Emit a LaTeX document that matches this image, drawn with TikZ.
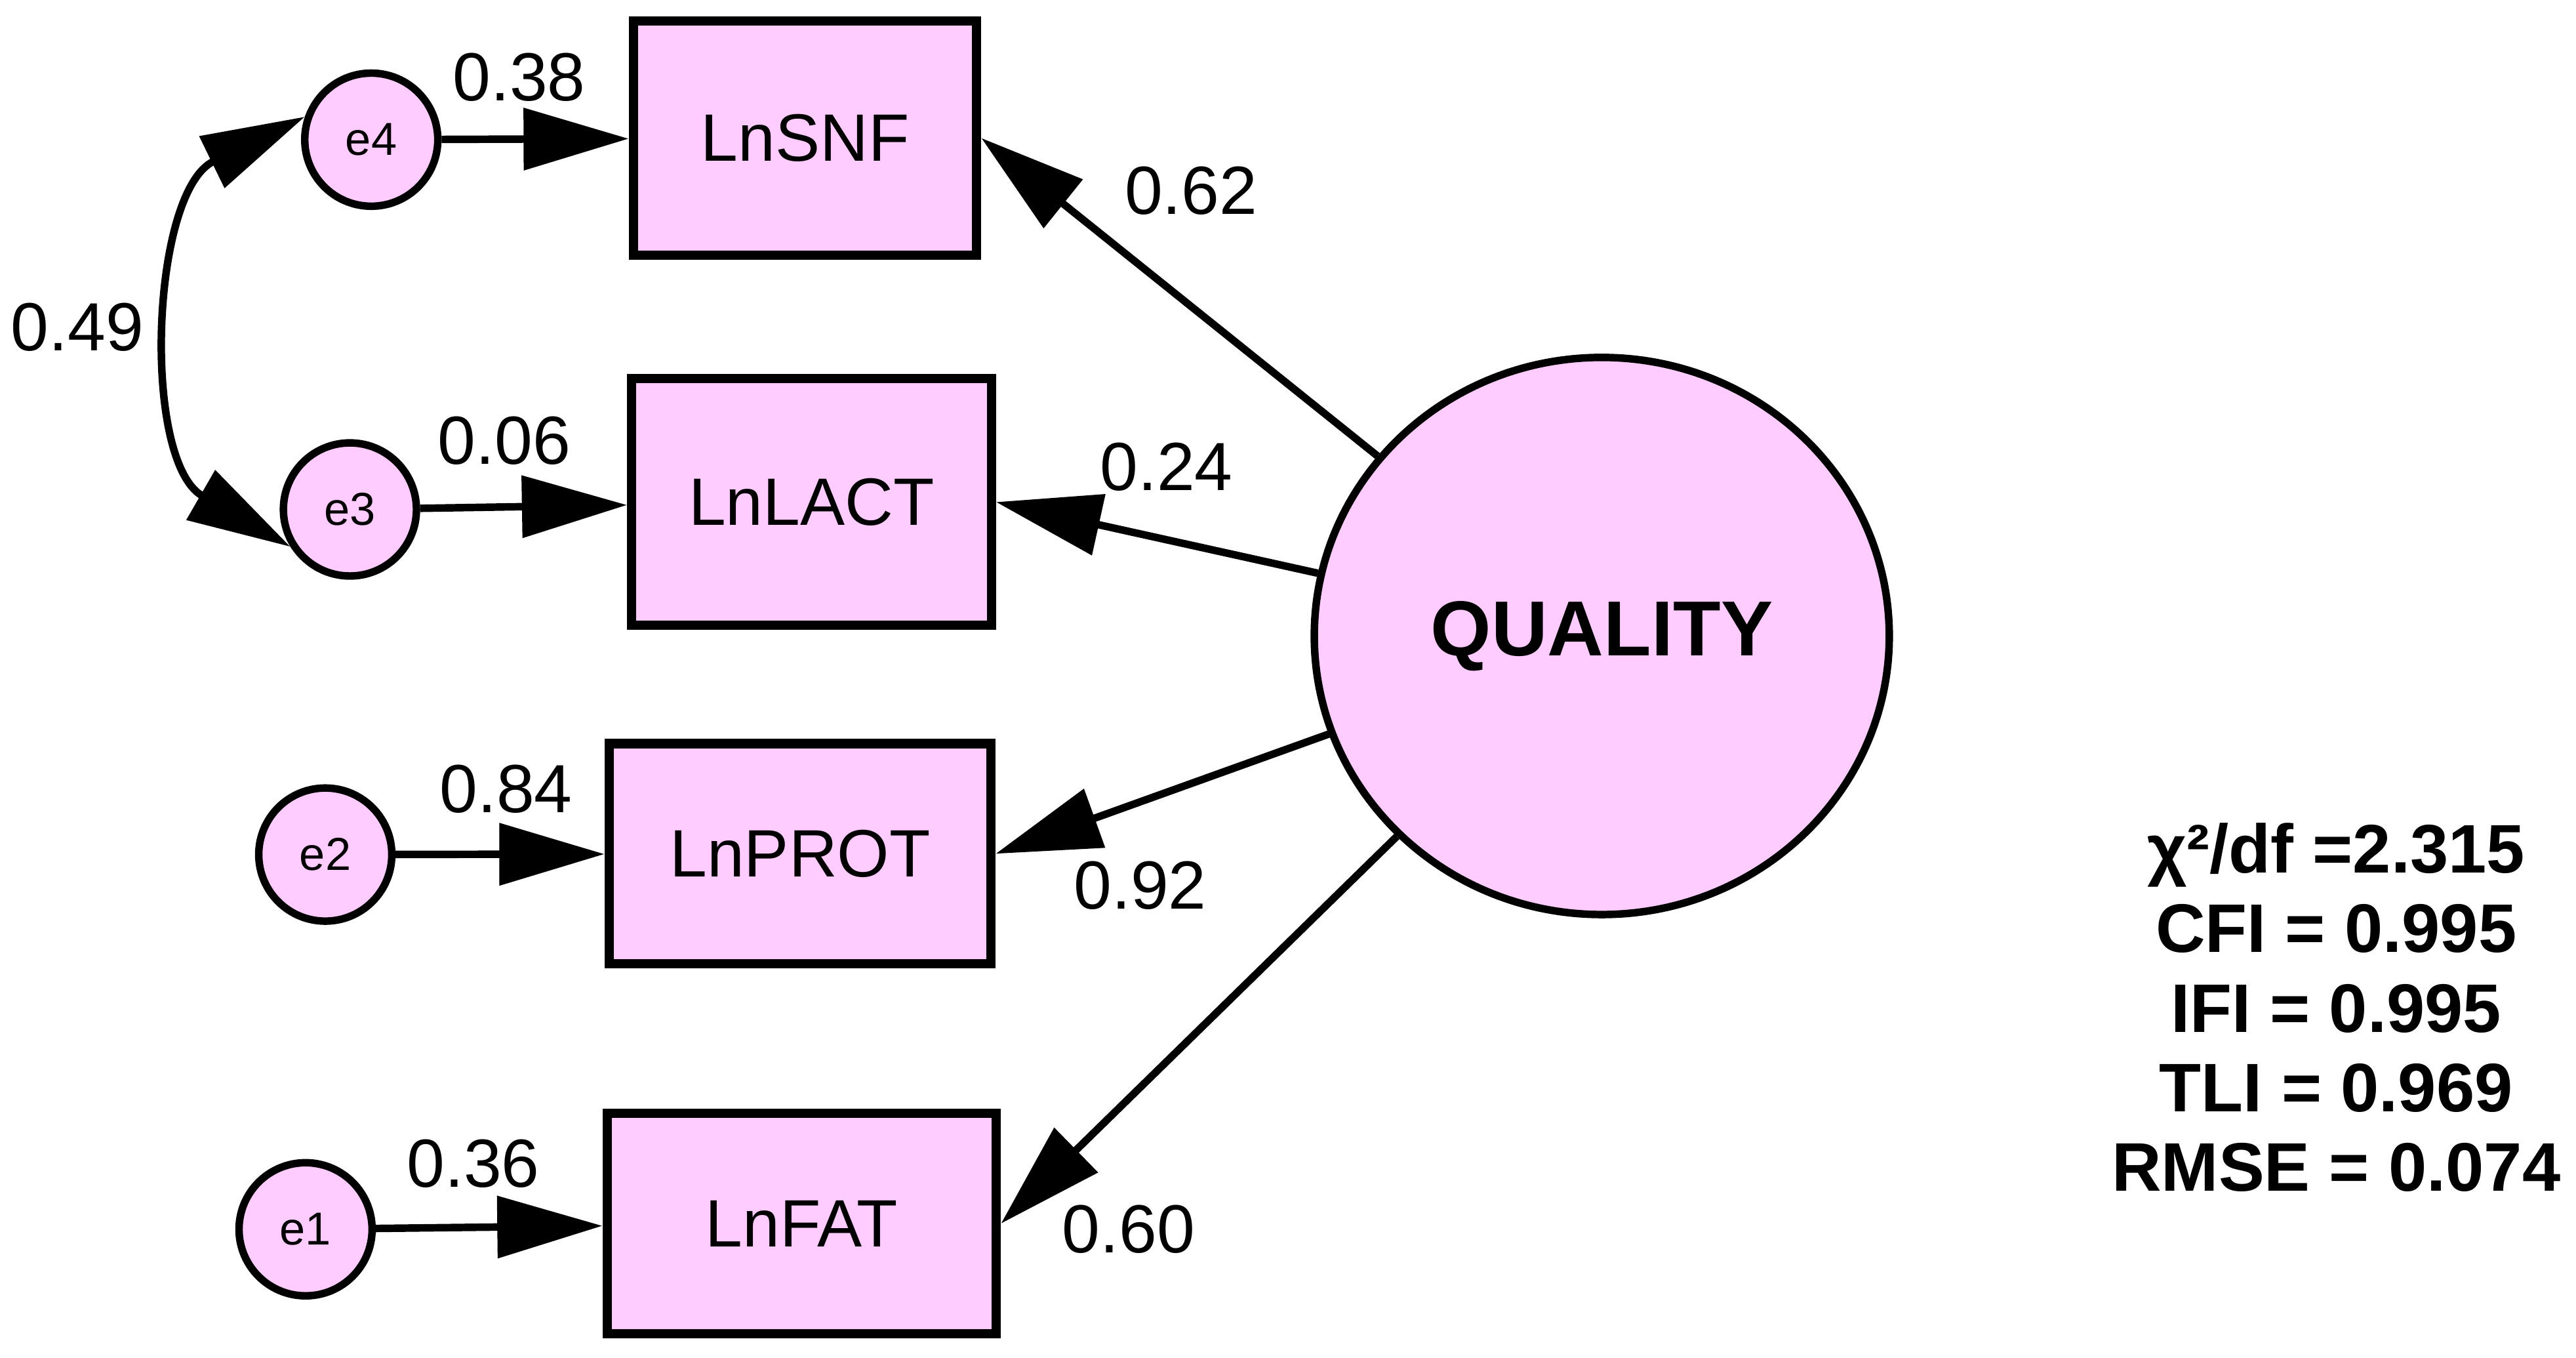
\documentclass[tikz,border=0pt]{standalone}
\usepackage{fontspec}
\setmainfont{Liberation Sans}
\usetikzlibrary{arrows.meta,shapes.geometric}

\definecolor{sempink}{RGB}{255,204,255}

\tikzset{
  obs/.style={draw, fill=sempink, line width=1.6pt, inner sep=0pt,
    font=\fontsize{11.6}{14}\selectfont},
  err/.style={circle, draw, fill=sempink, line width=1.3pt, minimum size=8.1mm,
    inner sep=0pt, font=\fontsize{8}{9.6}\selectfont},
  latent/.style={ellipse, draw, fill=sempink, line width=1.3pt, minimum width=35mm,
    minimum height=33.9mm, inner sep=0pt, font=\bfseries\fontsize{13.5}{16}\selectfont},
  coef/.style={font=\fontsize{11.8}{14}\selectfont, inner sep=0pt},
  load/.style={line width=1.3pt, -{Triangle[length=6.4mm,width=3.7mm]}},
  cov/.style={line width=1.3pt,
    {Triangle[length=6.3mm,width=3.4mm]}-{Triangle[length=6.3mm,width=3.4mm]}},
  fitstats/.style={font=\bfseries\fontsize{11.9}{13.75}\selectfont, align=center, inner sep=0pt}
}

\begin{document}
\begin{tikzpicture}[x=0.1mm, y=-0.1mm]
  \useasboundingbox (0,0) rectangle (1568,826);

  % latent factor
  \node[latent] (quality) at (975,387) {QUALITY};

  % observed indicators
  \node[obs, minimum width=20.9mm, minimum height=14.25mm] (snf)  at (490,84)    {LnSNF};
  \node[obs, minimum width=21.9mm, minimum height=15mm]    (lact) at (494,305.5) {LnLACT};
  \node[obs, minimum width=23.25mm, minimum height=13.4mm] (prot) at (487,519.5) {LnPROT};
  \node[obs, minimum width=23.7mm, minimum height=13.4mm]  (fat)  at (488,744.5) {LnFAT};

  % error terms
  \node[err] (e4) at (226,85)  {e4};
  \node[err] (e3) at (213,310) {e3};
  \node[err] (e2) at (198,520) {e2};
  \node[err] (e1) at (186,748) {e1};

  % loadings
  \draw[load] (quality) -- (snf.east);
  \draw[load] (quality) -- (lact.east);
  \draw[load] (quality) -- (prot.east);
  \draw[load] (quality) -- (fat.east);

  \draw[load] (e4) -- (snf);
  \draw[load] (e3) -- (lact);
  \draw[load] (e2) -- (prot);
  \draw[load] (e1) -- (fat);

  % error covariance
  \draw[cov] (e4.161) to[out=206, in=150, looseness=1.02] (e3.212);

  % coefficients
  \node[coef] (c62) at (725,116) {0.62};
  \node[coef] (c24) at (710,284) {0.24};
  \node[coef] (c92) at (694,539) {0.92};
  \node[coef] (c60) at (687,748) {0.60};
  \node[coef] (c38) at (316,47)  {0.38};
  \node[coef] (c06) at (307,268) {0.06};
  \node[coef] (c84) at (308,480) {0.84};
  \node[coef] (c36) at (288,708) {0.36};
  \node[coef] (c49) at (47,199)  {0.49};

  % fit indices
  \node[fitstats] (gof) at (1422,613)
    {χ²/df =2.315\\CFI = 0.995\\IFI = 0.995\\TLI = 0.969\\RMSE = 0.074};
\end{tikzpicture}
\end{document}
